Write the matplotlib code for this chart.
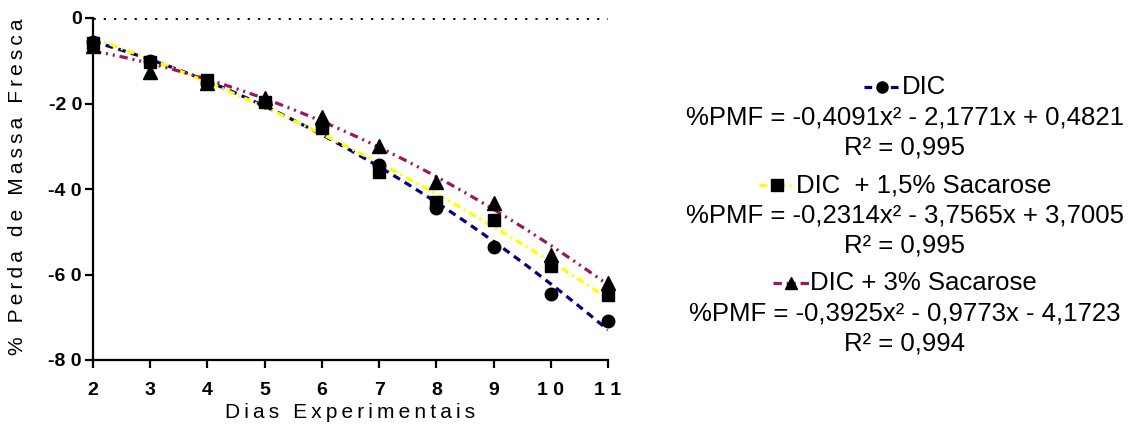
import matplotlib
matplotlib.use('agg')
import matplotlib.pyplot as plt
import numpy as np
from matplotlib.offsetbox import AnnotationBbox, HPacker, TextArea, DrawingArea
from matplotlib.lines import Line2D

plt.rcParams['font.family'] = ['Liberation Sans', 'DejaVu Sans']
plt.rcParams['lines.scale_dashes'] = False

# data
days = [2, 3, 4, 5, 6, 7, 8, 9, 10, 11]
dic = [-5.5, -10.0, -15.2, -19.6, -25.0, -34.4, -44.5, -53.5, -64.6, -70.8]
dic_15 = [-5.8, -10.3, -14.5, -19.6, -25.7, -36.0, -43.0, -47.3, -58.0, -64.8]
dic_3 = [-6.5, -12.6, -15.2, -18.7, -23.2, -29.9, -38.3, -43.3, -55.5, -62.0]

# trendline coefficients as printed in the legend
coef_dic = [-0.4091, -2.1771, 0.4821]
coef_15 = [-0.2314, -3.7565, 3.7005]
coef_3 = [-0.3925, -0.9773, -4.1723]
r2 = [0.995, 0.995, 0.994]
labels = ["DIC", "DIC  + 1,5% Sacarose", "DIC + 3% Sacarose"]

yticks = [-80, -60, -40, -20, 0]


def spaced(s, sep='\u2009'):
    return sep.join(s)


def num(v):
    return ('%.4f' % v).replace('.', ',')


def equation(c):
    a, b, k = c
    txt = '%PMF = ' + ('-' if a < 0 else '') + num(abs(a)) + 'x\u00b2'
    txt += (' - ' if b < 0 else ' + ') + num(abs(b)) + 'x'
    txt += (' - ' if k < 0 else ' + ') + num(abs(k))
    return txt


def tick_text(v):
    s = spaced(str(abs(v)), ' ')
    return '-' + s if v < 0 else s


W, H = 1137, 438
fig = plt.figure(figsize=(W / 100, H / 100), dpi=100)
ax = fig.add_axes([93 / W, (H - 360) / H, (608 - 93) / W, (360 - 18) / H])

series = [
    (dic, coef_dic, 'o', 9, '#000080', (5.5, 4.0)),
    (dic_15, coef_15, 's', 9, '#FFFF00', (5.5, 3.0, 1.5, 3.0)),
    (dic_3, coef_3, '^', 10, '#A0155A', (6.0, 3.5, 1.5, 3.5, 1.5, 3.5)),
]

xs = np.linspace(days[0], days[-1], 300)
for vals, coef, mk, ms, color, dashes in series:
    ax.plot(xs, np.polyval(coef, xs), color=color, lw=2.3, dashes=dashes, zorder=2)

# circles first, then triangles, squares on top
for idx in [0, 2, 1]:
    vals, coef, mk, ms, color, dashes = series[idx]
    ax.plot(days, vals, linestyle='none', marker=mk, ms=ms, color='black',
            zorder=3 + idx, clip_on=False)

ax.axhline(0, color='black', lw=2, dashes=(1.6, 5.8), zorder=1)

ax.set_xlim(2, 11)
ax.set_ylim(-80, 0)
for s in ['top', 'right']:
    ax.spines[s].set_visible(False)
for s in ['left', 'bottom']:
    ax.spines[s].set_linewidth(1.6)

ax.set_xticks(days)
ax.set_xticklabels([tick_text(d) for d in days], fontsize=14, fontweight='bold')
ax.set_yticks(yticks)
ax.set_yticklabels([tick_text(t) for t in yticks], fontsize=14, fontweight='bold')
ax.tick_params(axis='both', length=6, width=1.6, direction='out')
ax.tick_params(axis='y', pad=2)
ax.tick_params(axis='x', pad=10)

fig.text(18 / W, 1 - 187 / H, spaced("% Perda de Massa Fresca"), rotation=90,
         ha='center', va='center', fontsize=15)
fig.text(350 / W, 1 - 413 / H, spaced("Dias Experimentais"),
         ha='center', va='center', fontsize=15)

# legend, centred block to the right of the plot
coefs = [coef_dic, coef_15, coef_3]
row_tops = [87, 185, 283]
fs = 18.5
for i, (vals, coef, mk, ms, color, dashes) in enumerate(series):
    da = DrawingArea(26, 14, 0, 0)
    da.add_artist(Line2D([0, 26], [7, 7], color=color, lw=2.3, dashes=dashes))
    da.add_artist(Line2D([13], [7], marker=mk, ms=ms - 1, color='black', linestyle='none'))
    box = HPacker(children=[da, TextArea(labels[i], textprops=dict(fontsize=fs))],
                  sep=1, pad=0, align='center')
    ab = AnnotationBbox(box, (905, H - row_tops[i]), xycoords='figure pixels',
                        frameon=False, box_alignment=(0.5, 0.5), pad=0)
    fig.add_artist(ab)
    fig.text(905 / W, 1 - (row_tops[i] + 30) / H, equation(coefs[i]),
             ha='center', va='center', fontsize=fs)
    fig.text(905 / W, 1 - (row_tops[i] + 60) / H, 'R\u00b2 = ' + ('%.3f' % r2[i]).replace('.', ','),
             ha='center', va='center', fontsize=fs)

fig.savefig('out.png', dpi=100)
